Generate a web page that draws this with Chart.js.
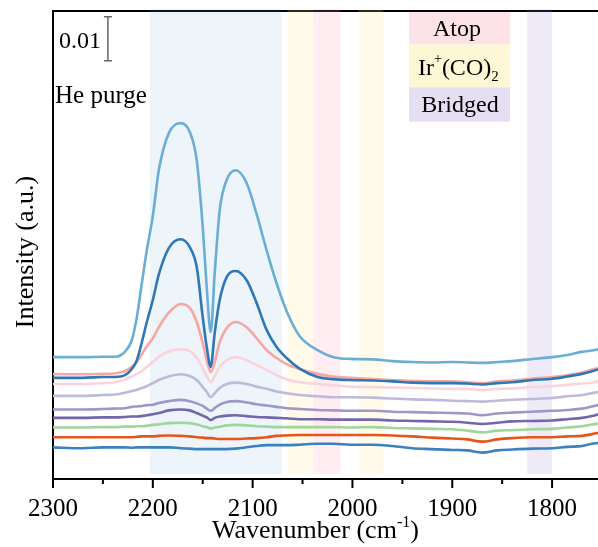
<!DOCTYPE html>
<html>
<head>
<meta charset="utf-8">
<script src="https://cdn.jsdelivr.net/npm/chart.js@4.4.0/dist/chart.umd.min.js"></script>
<style>
  html, body { margin: 0; padding: 0; background: #fff; }
  #wrap { width: 598px; height: 547px; }
</style>
</head>
<body>
<div id="wrap"><canvas id="irChart" width="598" height="547"></canvas></div>
<script>
// IR spectra during He purge, values in mAU (0.001 a.u.), stacked with offsets

const wavenumbers = [2300, 2270, 2250, 2238, 2228, 2221, 2216, 2211, 2206, 2200, 2194, 2184, 2172, 2163, 2156, 2150, 2146, 2142, 2138, 2133, 2126, 2117, 2106, 2096, 2086, 2076, 2066, 2053, 2035, 2019, 2002, 1980, 1960, 1940, 1920, 1900, 1885, 1870, 1855, 1840, 1820, 1800, 1785, 1770, 1760, 1754];

// top to bottom
const spec10 = [27.7, 27.7, 27.8, 27.8, 28.9, 31.6, 36.8, 44.5, 52.0, 59.8, 70.2, 78.6, 80.9, 78.9, 72.5, 57.3, 43.6, 33.4, 46.8, 61.1, 68.0, 70.2, 67.3, 60.2, 52.0, 44.5, 38.2, 32.5, 29.3, 27.7, 27.3, 27.2, 26.8, 26.6, 26.5, 26.6, 26.5, 26.4, 26.6, 26.8, 27.3, 27.7, 28.2, 28.9, 29.2, 29.5];
const spec09 = [23.0, 23.0, 23.2, 23.2, 23.6, 25.0, 27.0, 31.1, 35.7, 40.7, 46.5, 52.5, 54.5, 52.7, 48.2, 36.8, 30.0, 25.5, 33.2, 40.7, 45.9, 47.3, 45.2, 40.0, 33.9, 30.0, 27.5, 25.1, 23.2, 22.7, 22.5, 22.4, 22.2, 21.9, 21.8, 21.8, 21.7, 21.5, 21.8, 22.0, 22.5, 22.8, 23.3, 23.9, 24.5, 24.9];
const spec08 = [23.8, 23.8, 23.9, 24.0, 24.5, 25.5, 26.6, 28.4, 30.2, 32.0, 34.5, 37.8, 39.8, 38.9, 35.7, 30.9, 27.0, 24.3, 26.6, 31.1, 34.3, 35.7, 34.5, 32.0, 29.3, 27.5, 26.1, 25.0, 23.9, 23.3, 23.0, 22.7, 22.5, 22.3, 22.2, 22.2, 22.0, 21.8, 22.2, 22.4, 22.8, 23.2, 23.6, 24.2, 24.9, 25.2];
const spec07 = [21.6, 21.6, 21.8, 22.0, 22.6, 23.3, 23.9, 24.5, 25.5, 26.6, 27.8, 29.0, 29.5, 29.1, 27.5, 25.2, 23.4, 22.0, 23.4, 25.5, 27.0, 27.7, 27.0, 25.9, 24.8, 23.6, 22.7, 22.0, 21.6, 21.3, 21.0, 20.9, 20.8, 20.7, 20.6, 20.5, 20.5, 20.2, 20.5, 20.6, 20.9, 21.1, 21.4, 21.7, 21.9, 22.2];
const spec06 = [18.9, 18.9, 19.1, 19.2, 19.6, 20.0, 20.3, 20.7, 21.1, 21.8, 22.5, 23.3, 23.8, 23.4, 22.5, 20.9, 19.8, 18.6, 19.5, 20.7, 21.6, 21.9, 21.6, 21.0, 20.5, 19.9, 19.5, 19.1, 18.8, 18.6, 18.6, 18.5, 18.3, 18.1, 18.0, 17.8, 17.7, 17.6, 17.8, 18.0, 18.2, 18.4, 18.8, 19.1, 19.5, 19.8];
const spec05 = [15.8, 15.8, 15.9, 16.0, 16.1, 16.4, 16.5, 16.6, 16.8, 16.9, 17.3, 17.7, 18.0, 17.7, 17.2, 16.6, 16.0, 15.5, 16.1, 16.9, 17.5, 17.7, 17.4, 17.0, 16.7, 16.4, 16.1, 15.9, 15.7, 15.6, 15.5, 15.5, 15.3, 15.2, 15.1, 15.0, 14.9, 14.5, 14.9, 15.1, 15.3, 15.5, 15.7, 16.0, 16.5, 16.8];
const spec04 = [13.9, 13.9, 14.0, 14.0, 14.1, 14.2, 14.2, 14.3, 14.5, 14.7, 15.0, 15.6, 15.8, 15.6, 15.0, 14.4, 14.0, 13.4, 13.9, 14.2, 14.4, 14.5, 14.3, 14.1, 14.0, 13.9, 13.8, 13.6, 13.6, 13.5, 13.5, 13.5, 13.3, 13.2, 13.1, 13.0, 12.8, 12.5, 12.8, 13.1, 13.2, 13.3, 13.6, 13.9, 14.3, 14.7];
const spec03 = [11.7, 11.7, 11.8, 11.8, 11.9, 11.9, 12.0, 12.0, 12.1, 12.3, 12.4, 12.7, 12.8, 12.7, 12.4, 12.0, 11.8, 11.5, 11.7, 11.9, 12.2, 12.3, 12.2, 12.0, 11.9, 11.8, 11.8, 11.8, 11.8, 11.8, 11.7, 11.8, 11.6, 11.5, 11.4, 11.3, 11.0, 10.6, 11.0, 11.1, 11.3, 11.4, 11.7, 12.0, 12.4, 12.6];
const spec02 = [9.5, 9.5, 9.5, 9.5, 9.5, 9.5, 9.6, 9.7, 9.7, 9.7, 9.8, 9.9, 9.8, 9.7, 9.5, 9.4, 9.3, 9.3, 9.2, 9.1, 9.1, 9.1, 9.2, 9.3, 9.5, 9.8, 9.9, 10.0, 10.0, 10.0, 10.0, 10.0, 9.9, 9.7, 9.4, 9.2, 9.0, 8.5, 9.0, 9.3, 9.5, 9.5, 9.7, 9.8, 10.2, 10.5];
const spec01 = [7.2, 7.0, 7.2, 7.2, 7.2, 7.1, 7.2, 7.2, 7.2, 7.2, 7.2, 7.2, 7.0, 6.9, 6.8, 6.8, 6.8, 6.8, 6.8, 6.8, 6.8, 6.9, 7.2, 7.5, 7.7, 7.7, 7.7, 7.8, 8.0, 8.0, 7.8, 7.8, 7.5, 7.0, 6.8, 6.6, 6.5, 6.0, 6.5, 6.7, 6.9, 7.0, 7.3, 7.5, 8.0, 8.2];

const spectra = [spec10, spec09, spec08, spec07, spec06, spec05, spec04, spec03, spec02, spec01];
const lineColors = ['#6aaed6', '#2f78b5', '#f6a7a4', '#fbd3db', '#bdbadb', '#9e97c7', '#7466ad', '#9fd69a', '#e5561a', '#3b80c0'];

const xTicks = [1800, 1850, 1900, 1950, 2000, 2050, 2100, 2150, 2200, 2250, 2300];

// shaded assignment regions (cm-1)
const bandFrom = [2203, 2065, 2039, 1994, 1825];
const bandTo = [2071, 2039, 2012, 1969, 1800];
const bandColors = ['rgba(91,155,213,0.11)', 'rgba(255,226,140,0.18)', 'rgba(255,150,180,0.17)', 'rgba(255,226,140,0.18)', 'rgba(160,130,210,0.17)'];
const bandBottom = 1.1;

const legendLabels = ['Atop', 'Ir+(CO)2', 'Bridged'];
const legendColors = ['#fde3e8', '#fdf7d5', '#e6dff3'];

const scaleBarX = 2245;
const scaleBarTop = 105.1;
const scaleBarSize = 10; // 0.01 a.u.

const serif = 'Liberation Serif, Times New Roman, serif';

const decor = {
  id: 'decor',
  beforeDatasetsDraw(chart) {
    const { ctx, chartArea, scales: { x, y } } = chart;
    ctx.save();
    ctx.strokeStyle = '#000';
    ctx.lineWidth = 2;
    ctx.beginPath();
    ctx.moveTo(chartArea.left - 1, chartArea.top);
    ctx.lineTo(chartArea.right, chartArea.top);
    ctx.stroke();
    const bot = y.getPixelForValue(bandBottom);
    bandFrom.forEach((from, i) => {
      const x1 = x.getPixelForValue(from);
      const x2 = x.getPixelForValue(bandTo[i]);
      ctx.fillStyle = bandColors[i];
      ctx.fillRect(x1, chartArea.top - 2, x2 - x1, bot - chartArea.top + 2);
    });
    ctx.restore();
  },
  afterDraw(chart) {
    const { ctx, chartArea, scales: { x, y } } = chart;
    ctx.save();

    // tick marks, long at 100s, short at 50s
    ctx.strokeStyle = '#000';
    ctx.lineWidth = 2;
    x.ticks.forEach(t => {
      const px = x.getPixelForValue(t.value);
      const len = t.value % 100 === 0 ? 9 : 5;
      ctx.beginPath();
      ctx.moveTo(px, chartArea.bottom);
      ctx.lineTo(px, chartArea.bottom + len);
      ctx.stroke();
    });

    // legend boxes
    const lx = 409, lw = 101;
    const rows = [[12, 44.3], [44.3, 87.3], [87.3, 121.7]];
    rows.forEach((r, i) => {
      ctx.fillStyle = legendColors[i];
      ctx.fillRect(lx, r[0], lw, r[1] - r[0]);
    });
    ctx.fillStyle = '#000';
    ctx.textBaseline = 'alphabetic';
    ctx.font = '24px ' + serif;
    ctx.textAlign = 'center';
    ctx.fillText(legendLabels[0], 457, 36);
    ctx.fillText(legendLabels[2], 460, 112);
    // Ir+(CO)2 with super/subscript
    ctx.textAlign = 'left';
    let cx = 418;
    ctx.fillText('Ir', cx, 75);
    cx += ctx.measureText('Ir').width;
    ctx.font = '14px ' + serif;
    ctx.fillText('+', cx, 63);
    cx += ctx.measureText('+').width;
    ctx.font = '24px ' + serif;
    ctx.fillText('(CO)', cx, 75);
    cx += ctx.measureText('(CO)').width;
    ctx.font = '15px ' + serif;
    ctx.fillText('2', cx, 81);

    // scale bar
    const bx = x.getPixelForValue(scaleBarX);
    const b1 = y.getPixelForValue(scaleBarTop);
    const b2 = y.getPixelForValue(scaleBarTop - scaleBarSize);
    ctx.strokeStyle = '#666';
    ctx.lineWidth = 1.5;
    ctx.beginPath();
    ctx.moveTo(bx, b1); ctx.lineTo(bx, b2);
    ctx.moveTo(bx - 4, b1); ctx.lineTo(bx + 4, b1);
    ctx.moveTo(bx - 4, b2); ctx.lineTo(bx + 4, b2);
    ctx.stroke();
    ctx.fillStyle = '#000';
    ctx.font = '24px ' + serif;
    ctx.fillText('0.01', 59, 48);
    ctx.font = '25px ' + serif;
    ctx.fillText('He purge', 55, 103);

    // x title with superscript
    ctx.font = '26px ' + serif;
    let tx = 212;
    ctx.fillText('Wavenumber (cm', tx, 538);
    tx += ctx.measureText('Wavenumber (cm').width;
    ctx.font = '16px ' + serif;
    ctx.fillText('-1', tx, 527);
    tx += ctx.measureText('-1').width;
    ctx.font = '26px ' + serif;
    ctx.fillText(')', tx, 538);

    // y title
    ctx.translate(33, 252);
    ctx.rotate(-Math.PI / 2);
    ctx.textAlign = 'center';
    ctx.fillText('Intensity (a.u.)', 0, 0);
    ctx.restore();
  }
};

const datasets = spectra.map((s, i) => ({
  data: wavenumbers.map((w, j) => ({ x: w, y: s[j] })),
  borderColor: lineColors[i],
  borderWidth: 2.6,
  pointRadius: 0,
  fill: false,
  cubicInterpolationMode: 'monotone'
}));

new Chart(document.getElementById('irChart'), {
  type: 'line',
  data: { datasets },
  options: {
    responsive: false,
    animation: false,
    devicePixelRatio: 1,
    layout: { padding: { top: 11, right: 0, left: 0, bottom: 0 } },
    plugins: { legend: { display: false }, tooltip: { enabled: false } },
    scales: {
      x: {
        type: 'linear',
        reverse: true,
        min: 1754,
        max: 2300,
        afterBuildTicks: s => { s.ticks = xTicks.map(v => ({ value: v })); },
        ticks: {
          autoSkip: false,
          maxRotation: 0,
          padding: 7,
          color: '#000',
          font: { family: serif, size: 25 },
          callback: v => (v % 100 === 0 ? v : '')
        },
        grid: { display: false },
        border: { display: true, color: '#000', width: 2 },
        afterFit: s => { s.height = 68; }
      },
      y: {
        min: 0,
        max: 106.4,
        ticks: { display: false },
        grid: { display: false },
        border: { display: true, color: '#000', width: 2 },
        afterFit: s => { s.width = 53; }
      }
    }
  },
  plugins: [decor]
});
</script>
</body>
</html>
